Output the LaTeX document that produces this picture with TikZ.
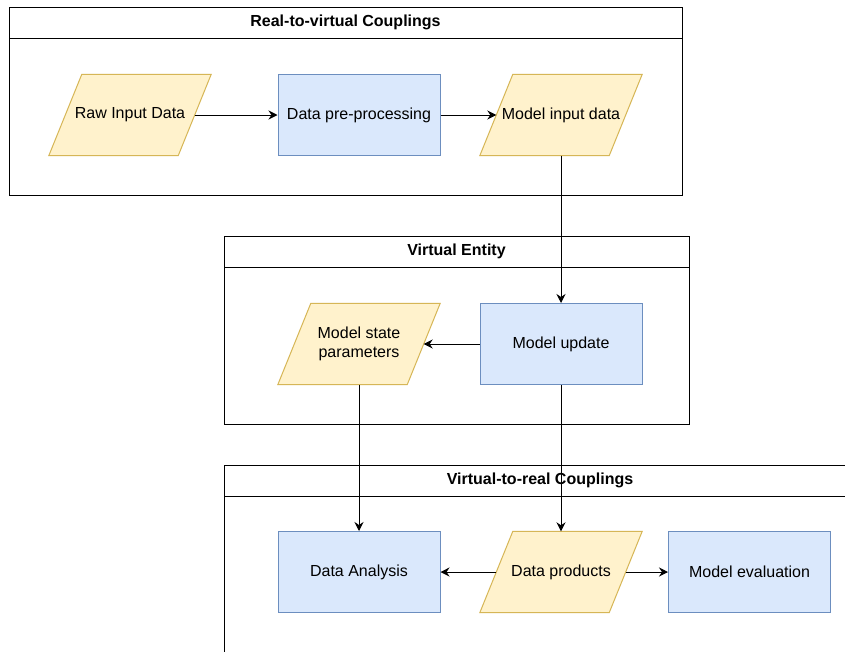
\documentclass[tikz,border=0pt]{standalone}
\usepackage{fontspec}
\setmainfont{Liberation Sans}
\usepackage{xcolor}
\usetikzlibrary{arrows.meta,backgrounds}
\definecolor{datayellow}{RGB}{255,242,204}
\definecolor{datayellowline}{RGB}{214,182,86}
\definecolor{procblue}{RGB}{218,232,252}
\definecolor{procblueline}{RGB}{108,142,191}

\begin{document}
\begin{tikzpicture}[x=1pt,y=-1pt,
  every node/.style={font=\fontsize{16}{19}\selectfont},
  proc/.style={rectangle,draw=procblueline,fill=procblue,line width=1pt,
    minimum width=162pt,minimum height=81pt,inner sep=0pt},
  data/.style={rectangle,minimum width=129pt,minimum height=81pt,inner sep=0pt,align=center,
    append after command={\pgfextra{\begin{pgfonlayer}{background}
      \draw[draw=datayellowline,fill=datayellow,line width=1pt]
        ([xshift=16.5pt]\tikzlastnode.north west) -- ([xshift=16.5pt]\tikzlastnode.north east)
        -- ([xshift=-16.5pt]\tikzlastnode.south east) -- ([xshift=-16.5pt]\tikzlastnode.south west)
        -- cycle;
      \end{pgfonlayer}}}},
  lane/.style={rectangle,draw,line width=1pt,inner sep=0pt},
  lanetitle/.style={rectangle,draw,line width=1pt,minimum height=31pt,inner sep=0pt,
    anchor=north,font=\fontsize{16}{19}\selectfont\bfseries},
  flow/.style={-{Stealth[length=9pt,width=9pt,inset=3pt]},line width=1pt}]
  \useasboundingbox (0,0) rectangle (845,651);
  \clip (0,0) rectangle (845,651);
  \begin{pgfonlayer}{background}
    \fill[white] (0,0) rectangle (845,651);
  \end{pgfonlayer}

  \node[lane, minimum width=673pt, minimum height=188pt] (rtv) at (345.5,101) {};
  \node[lanetitle, minimum width=673pt] (rtvtitle) at (rtv.north) {Real-to-virtual Couplings};
  \node[lane, minimum width=465pt, minimum height=188pt] (ve) at (456.5,330) {};
  \node[lanetitle, minimum width=465pt] (vetitle) at (ve.north) {Virtual Entity};
  \node[lane, minimum width=632pt, minimum height=235pt] (vtr) at (540,582.5) {};
  \node[lanetitle, minimum width=632pt] (vtrtitle) at (vtr.north) {Virtual-to-real Couplings};

  \node[data] (raw) at (130,115) {Raw Input Data};
  \node[proc] (prep) at (359,115) {Data pre-processing};
  \node[data] (modelin) at (561,115) {Model input data};

  \node[data] (state) at (359,344) {Model state\\parameters};
  \node[proc] (update) at (561,344) {Model update};

  \node[proc] (analysis) at (359,572) {Data Analysis};
  \node[data] (products) at (561,572) {Data products};
  \node[proc] (evaluation) at (749.5,572) {Model evaluation};

  \draw[flow] (raw) -- (prep);
  \draw[flow] (prep) -- (modelin);
  \draw[flow] (modelin) -- (update);
  \draw[flow] (update) -- (state);
  \draw[flow] (state) -- (analysis);
  \draw[flow] (update) -- (products);
  \draw[flow] (products) -- (analysis);
  \draw[flow] (products) -- (evaluation);
\end{tikzpicture}
\end{document}
